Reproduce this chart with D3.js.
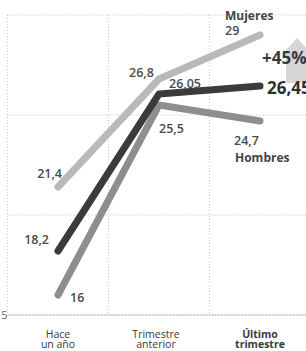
<!DOCTYPE html>
<html>
<head>
<meta charset="utf-8">
<script src="https://cdn.jsdelivr.net/npm/d3@7"></script>
<style>
  body { margin: 0; background: #fff; }
  svg { display: block; font-family: "Open Sans", sans-serif; }
</style>
</head>
<body>
<div id="container"></div>
<script>
// periods on the x axis
var periods = ["Hace un año", "Trimestre anterior", "Último trimestre"];
var periodLines = [["Hace", "un año"], ["Trimestre", "anterior"], ["Último", "trimestre"]];

// series values
var mujeres = [21.4, 26.8, 29];
var total = [18.2, 26.05, 26.45];
var hombres = [16, 25.5, 24.7];

var yTicks = [15, 20, 25, 30];

var width = 306, height = 351;

var svg = d3.select("#container").append("svg")
    .attr("width", width)
    .attr("height", height);

var x = d3.scalePoint().domain(periods).range([58, 260]);
var step = x.step();
var y = d3.scaleLinear().domain([15, 30]).range([315, 15]);

// grid
svg.selectAll("line.hgrid")
    .data(yTicks)
    .enter().append("line")
    .attr("class", "hgrid")
    .attr("x1", x(periods[0]) - step / 2)
    .attr("x2", width)
    .attr("y1", function(d) { return y(d); })
    .attr("y2", function(d) { return y(d); })
    .attr("stroke", function(d) { return d == 15 ? "#9a9a9a" : "#bdbdbd"; })
    .attr("stroke-width", 1)
    .attr("stroke-dasharray", function(d) { return d == 15 ? "2,1" : "1,2"; });

svg.selectAll("line.vgrid")
    .data(periods)
    .enter().append("line")
    .attr("class", "vgrid")
    .attr("x1", function(d) { return x(d) - step / 2; })
    .attr("x2", function(d) { return x(d) - step / 2; })
    .attr("y1", y(30))
    .attr("y2", y(15))
    .attr("stroke", "#c4c4c4")
    .attr("stroke-dasharray", "1,2");

// axis label at the baseline, cut by the left edge like the original
svg.append("text")
    .attr("x", 7.5)
    .attr("y", y(15) + 4)
    .attr("text-anchor", "end")
    .attr("font-size", 11)
    .attr("fill", "#666")
    .text("15");

// arrow shape behind +45%
svg.append("path")
    .attr("d", "M286,83 L286,50 L297,38 L308,50 L308,83 Z")
    .attr("fill", "#d6d6d6");

var line = d3.line()
    .x(function(d, i) { return x(periods[i]); })
    .y(function(d) { return y(d); });

var series = [
    { name: "mujeres", values: mujeres, color: "#b9b9b9" },
    { name: "hombres", values: hombres, color: "#8e8e8e" },
    { name: "total", values: total, color: "#3b3b3b" }
];

svg.selectAll("path.series")
    .data(series)
    .enter().append("path")
    .attr("class", "series")
    .attr("d", function(d) { return line(d.values); })
    .attr("fill", "none")
    .attr("stroke", function(d) { return d.color; })
    .attr("stroke-width", 7)
    .attr("stroke-linecap", "round")
    .attr("stroke-linejoin", "round");

function fmt(v) { return String(v).replace(".", ","); }

// value labels: [value, x, y, anchor, size, weight]
var labels = [
    [mujeres[0], x(periods[0]) + 4, y(mujeres[0]) - 9, "end", 12.5, 600],
    [total[0], x(periods[0]) - 9, y(total[0]) - 7, "end", 12.5, 600],
    [hombres[0], x(periods[0]) + 12, y(hombres[0]) + 7, "start", 12.5, 600],
    [mujeres[1], x(periods[1]) - 30, y(mujeres[1]) - 2, "start", 12.5, 600],
    [total[1], x(periods[1]) + 10, y(total[1]) - 6, "start", 12.5, 600],
    [hombres[1], x(periods[1]), y(hombres[1]) + 28, "start", 12.5, 600],
    [mujeres[2], x(periods[2]) - 35, y(mujeres[2]) + 0, "start", 12.5, 600],
    [total[2], x(periods[2]) + 7, y(total[2]) + 8, "start", 17, 700],
    [hombres[2], x(periods[2]) - 26, y(hombres[2]) + 24, "start", 12.5, 600]
];

svg.selectAll("text.val")
    .data(labels)
    .enter().append("text")
    .attr("class", "val")
    .attr("x", function(d) { return d[1]; })
    .attr("y", function(d) { return d[2]; })
    .attr("text-anchor", function(d) { return d[3]; })
    .attr("font-size", function(d) { return d[4]; })
    .attr("font-weight", function(d) { return d[5]; })
    .attr("fill", function(d) { return d[5] == 700 ? "#2f2f2f" : "#4a4a4a"; })
    .text(function(d) { return fmt(d[0]); });

svg.append("text")
    .attr("x", 225).attr("y", 20)
    .attr("font-size", 12).attr("font-weight", 700).attr("fill", "#444")
    .text("Mujeres");

svg.append("text")
    .attr("x", 235).attr("y", 162)
    .attr("font-size", 12).attr("font-weight", 700).attr("fill", "#444")
    .text("Hombres");

svg.append("text")
    .attr("x", 262).attr("y", 64)
    .attr("font-size", 17).attr("font-weight", 700).attr("fill", "#3a3a3a")
    .text("+45%");

// x axis labels
var xl = svg.selectAll("text.xlab")
    .data(periodLines)
    .enter().append("text")
    .attr("class", "xlab")
    .attr("text-anchor", "middle")
    .attr("font-size", 10.5)
    .attr("fill", "#3a3a3a")
    .attr("font-weight", function(d, i) { return i == 2 ? 700 : 400; });

xl.append("tspan")
    .attr("x", function(d, i) { return x(periods[i]) - (i == 1 ? 3 : 0); })
    .attr("y", 338)
    .text(function(d) { return d[0]; });

xl.append("tspan")
    .attr("x", function(d, i) { return x(periods[i]) - (i == 1 ? 3 : 0); })
    .attr("y", 348)
    .text(function(d) { return d[1]; });
</script>
</body>
</html>
